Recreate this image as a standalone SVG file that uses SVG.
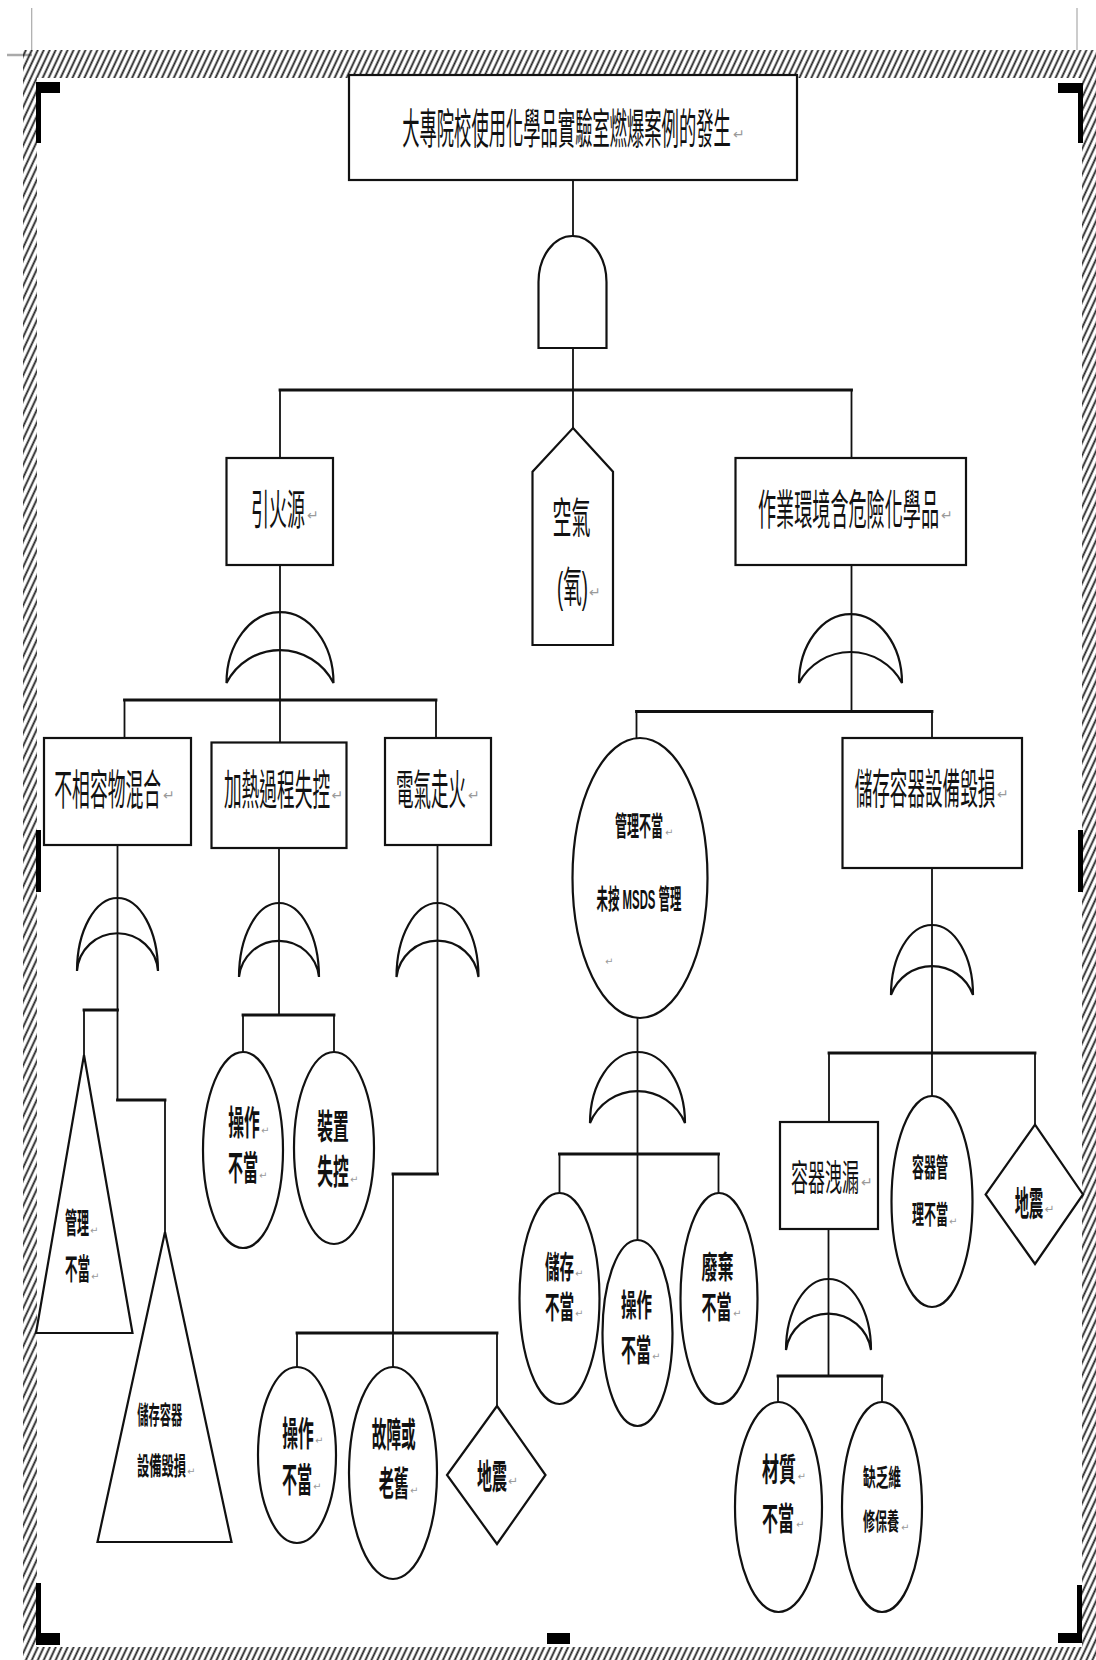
<svg xmlns="http://www.w3.org/2000/svg" width="1096" height="1660" viewBox="0 0 1096 1660">
<defs>
<style>
.ln{stroke:#111;stroke-width:1.8;fill:none;stroke-linecap:square}
.bus{stroke:#111;stroke-width:2.8;fill:none;stroke-linecap:square}
.box{fill:#fff;stroke:#111;stroke-width:2.2}
.gate{fill:none;stroke:#111;stroke-width:2.2}
.fillw{fill:#fff}
.t{font-family:"Liberation Sans","Noto Sans CJK TC",sans-serif;text-anchor:middle;dominant-baseline:central;fill:#111}
.s{font-weight:bold}
.rt{font-family:"DejaVu Sans",sans-serif;font-size:14px;fill:#9a9a9a;dominant-baseline:central}
.rs{font-family:"DejaVu Sans",sans-serif;font-size:10px;fill:#9a9a9a;dominant-baseline:central}
.mark{fill:#000}
.thin{stroke:#aaa;stroke-width:1.2}
</style>
<pattern id="hatch" patternUnits="userSpaceOnUse" width="5.4" height="8" patternTransform="rotate(25)">
<line x1="1.4" y1="-1" x2="1.4" y2="9" stroke="#222" stroke-width="1.8"/>
</pattern>
</defs>
<rect width="1096" height="1660" fill="#fff"/>

<g id="frame">
<line class="thin" x1="31.7" y1="8" x2="31.7" y2="50"/>
<line x1="7" y1="55" x2="32" y2="55" stroke="#aaa" stroke-width="2.5"/>
<line class="thin" x1="1077" y1="8" x2="1077" y2="50"/>
<rect x="23" y="50" width="1073" height="28" fill="url(#hatch)"/>
<rect x="23" y="78" width="14" height="1582" fill="url(#hatch)"/>
<rect x="1082" y="78" width="14" height="1582" fill="url(#hatch)"/>
<rect x="37" y="1647" width="1045" height="13" fill="url(#hatch)"/>
<rect class="mark" x="36" y="82" width="5" height="61"/>
<rect class="mark" x="36" y="82" width="24" height="11"/>
<rect class="mark" x="1078" y="83" width="5" height="60"/>
<rect class="mark" x="1058" y="83" width="25" height="10"/>
<rect class="mark" x="36" y="1583" width="5" height="62"/>
<rect class="mark" x="36" y="1633" width="24" height="12"/>
<rect class="mark" x="1077" y="1585" width="5" height="58"/>
<rect class="mark" x="1058" y="1633" width="24" height="10"/>
<rect class="mark" x="548" y="82" width="24" height="11"/>
<rect class="mark" x="547" y="1633" width="23" height="11"/>
<rect class="mark" x="36" y="830" width="5" height="62"/>
<rect class="mark" x="1078" y="830" width="5" height="62"/>
</g>

<g id="connectors">
<path class="ln" d="M573 180V236M573 348V428M280 390V458M851.5 390V458M280 565V742.5M124.5 700V738M436 700V738M851.5 565V711.5M636.5 711.5V738M932 711.5V738M117.5 845V1100M84 1010V1055M165 1100V1232M279 848V1015M243 1015V1052M334 1015V1052M437.5 845V1174M393 1174V1367M297 1333V1367M497 1333V1406M637.5 1018V1240M559.5 1154V1193M718.5 1154V1193M932 868V1096M829 1053V1122M1035 1053V1124.6M828.5 1229V1376M778 1376V1402M882 1376V1402"/>
<path class="bus" d="M280 390H851.5M124.5 700H436M636.5 711.5H932M84 1010H117.5M117.5 1100H165M243 1015H334M393 1174H437.5M297 1333H497M559.5 1154H718.5M829 1053H1035M778 1376H882"/>
</g>

<g id="gates">
<path id="and-top" class="gate fillw" d="M538.5 348V282A34 46 0 0 1 606.5 282V348Z"/>
<path id="or-ignition" class="gate" d="M226.5 683A53.5 71 0 0 1 333.5 683A59.9 59.9 0 0 0 226.5 683Z"/>
<path id="or-hazard" class="gate" d="M799 683A51.5 69 0 0 1 902 683A58.3 58.3 0 0 0 799 683Z"/>
<path id="or-mix" class="gate" d="M77 971A40.5 73 0 0 1 158 971A40.6 40.6 0 0 0 77 971Z"/>
<path id="or-heat" class="gate" d="M239 977A40 74 0 0 1 319 977A40.2 40.2 0 0 0 239 977Z"/>
<path id="or-elec" class="gate" d="M396.5 977A41 74 0 0 1 478.5 977A41.3 41.3 0 0 0 396.5 977Z"/>
<path id="or-storage" class="gate" d="M891 995A41 70 0 0 1 973 995A43.5 43.5 0 0 0 891 995Z"/>
<path id="or-mgmt" class="gate" d="M590 1123A47.5 71 0 0 1 685 1123A51.3 51.3 0 0 0 590 1123Z"/>
<path id="or-leak" class="gate" d="M786 1350A42.5 71 0 0 1 871 1350A43 43 0 0 0 786 1350Z"/>
</g>

<g id="n-top">
<rect class="box" x="349" y="75" width="448" height="105"/>
<text class="t" x="566.5" y="130" style="font-size:17.3px" transform="translate(0 130) scale(1 2.43) translate(0 -130)">大專院校使用化學品實驗室燃爆案例的發生</text>
<text class="rt" x="733" y="134">↵</text>
</g>
<g id="n-ignition">
<rect class="box" x="226.5" y="458" width="106.5" height="107"/>
<text class="t" x="278" y="511" style="font-size:18px" transform="translate(0 511) scale(1 2.33) translate(0 -511)">引火源</text>
<text class="rt" x="307" y="515">↵</text>
</g>
<g id="n-air">
<path class="box" d="M573 428L613 471.7V645H532.5V471.7Z"/>
<text class="t" x="571.6" y="518.5" style="font-size:19px" transform="translate(0 518.5) scale(1 2.2) translate(0 -518.5)">空氣</text>
<text class="t" x="572.5" y="588" style="font-size:18.6px" transform="translate(0 588) scale(1 2.26) translate(0 -588)">(氧)</text>
<text class="rt" x="589" y="592">↵</text>
</g>
<g id="n-hazard">
<rect class="box" x="735.5" y="458" width="230.5" height="107"/>
<text class="t" x="848.5" y="511" style="font-size:18.1px" transform="translate(0 511) scale(1 2.32) translate(0 -511)">作業環境含危險化學品</text>
<text class="rt" x="941" y="515">↵</text>
</g>
<g id="n-mix">
<rect class="box" x="44" y="738" width="147" height="107"/>
<text class="t" x="107.7" y="791" style="font-size:17.8px" transform="translate(0 791) scale(1 2.36) translate(0 -791)">不相容物混合</text>
<text class="rt" x="163" y="795">↵</text>
</g>
<g id="n-heat">
<rect class="box" x="211.5" y="742.5" width="135" height="105.5"/>
<text class="t" x="277" y="791" style="font-size:17.7px" transform="translate(0 791) scale(1 2.37) translate(0 -791)">加熱過程失控</text>
<text class="rt" x="331.5" y="795">↵</text>
</g>
<g id="n-elec">
<rect class="box" x="385" y="738" width="106" height="107"/>
<text class="t" x="431" y="791" style="font-size:17.5px" transform="translate(0 791) scale(1 2.4) translate(0 -791)">電氣走火</text>
<text class="rt" x="468" y="795">↵</text>
</g>
<g id="n-mgmt">
<ellipse class="box" cx="640" cy="878" rx="67.5" ry="140"/>
<text class="t s" x="639" y="826.5" style="font-size:12px" transform="translate(0 826.5) scale(1 2.25) translate(0 -826.5)">管理不當</text>
<text class="rs" x="665" y="832">↵</text>
<text class="t s" x="639" y="899" style="font-size:11.4px" transform="translate(0 899) scale(1 2.37) translate(0 -899)">未按 MSDS 管理</text>
<text class="rs" x="605" y="961">↵</text>
</g>
<g id="n-storage">
<rect class="box" x="842.5" y="738" width="179.5" height="130"/>
<text class="t" x="925" y="790" style="font-size:17.6px" transform="translate(0 790) scale(1 2.38) translate(0 -790)">儲存容器設備毀損</text>
<text class="rt" x="997" y="794">↵</text>
</g>
<g id="n-mix-mgmt">
<path class="box" d="M84 1055L132.5 1333H36Z"/>
<text class="t s" x="77" y="1224" style="font-size:12px" transform="translate(0 1224) scale(1 2.42) translate(0 -1224)">管理</text>
<text class="rs" x="90" y="1230">↵</text>
<text class="t s" x="77.5" y="1270" style="font-size:12.5px" transform="translate(0 1270) scale(1 2.32) translate(0 -1270)">不當</text>
<text class="rs" x="91" y="1276">↵</text>
</g>
<g id="n-mix-storage">
<path class="box" d="M165 1232L231.5 1542H97.5Z"/>
<text class="t s" x="159.7" y="1415" style="font-size:11.25px" transform="translate(0 1415) scale(1 2.22) translate(0 -1415)">儲存容器</text>
<text class="t s" x="161.5" y="1466" style="font-size:12.25px" transform="translate(0 1466) scale(1 2.04) translate(0 -1466)">設備毀損</text>
<text class="rs" x="187" y="1471">↵</text>
</g>
<g id="n-heat-op">
<ellipse class="box" cx="243" cy="1150" rx="40" ry="98"/>
<text class="t s" x="244" y="1123.5" style="font-size:15.75px" transform="translate(0 1123.5) scale(1 2.16) translate(0 -1123.5)">操作</text>
<text class="rs" x="261" y="1130">↵</text>
<text class="t s" x="243" y="1168.5" style="font-size:15px" transform="translate(0 1168.5) scale(1 2.27) translate(0 -1168.5)">不當</text>
<text class="rs" x="259" y="1175">↵</text>
</g>
<g id="n-heat-dev">
<ellipse class="box" cx="334" cy="1148" rx="40" ry="96"/>
<text class="t s" x="333" y="1127.5" style="font-size:15.75px" transform="translate(0 1127.5) scale(1 2.16) translate(0 -1127.5)">裝置</text>
<text class="t s" x="333" y="1172.5" style="font-size:15.75px" transform="translate(0 1172.5) scale(1 2.16) translate(0 -1172.5)">失控</text>
<text class="rs" x="350" y="1179">↵</text>
</g>
<g id="n-elec-op">
<ellipse class="box" cx="297" cy="1455" rx="39" ry="88"/>
<text class="t s" x="298" y="1434" style="font-size:15.75px" transform="translate(0 1434) scale(1 2.16) translate(0 -1434)">操作</text>
<text class="rs" x="315" y="1440">↵</text>
<text class="t s" x="297" y="1480" style="font-size:15px" transform="translate(0 1480) scale(1 2.27) translate(0 -1480)">不當</text>
<text class="rs" x="313" y="1486">↵</text>
</g>
<g id="n-elec-old">
<ellipse class="box" cx="393" cy="1473" rx="44" ry="106"/>
<text class="t s" x="393.8" y="1435" style="font-size:14.67px" transform="translate(0 1435) scale(1 2.32) translate(0 -1435)">故障或</text>
<text class="t s" x="393.8" y="1484" style="font-size:15px" transform="translate(0 1484) scale(1 2.27) translate(0 -1484)">老舊</text>
<text class="rs" x="410" y="1490">↵</text>
</g>
<g id="n-elec-quake">
<path class="box" d="M497 1406L545.5 1475L497 1544L447 1475Z"/>
<text class="t s" x="492" y="1477" style="font-size:15px" transform="translate(0 1477) scale(1 2.27) translate(0 -1477)">地震</text>
<text class="rt" x="508" y="1481" style="font-size:12px">↵</text>
</g>
<g id="n-mgmt-store">
<ellipse class="box" cx="559.5" cy="1298.5" rx="40" ry="105.5"/>
<text class="t s" x="559.5" y="1267" style="font-size:14.5px" transform="translate(0 1267) scale(1 2.14) translate(0 -1267)">儲存</text>
<text class="rs" x="575" y="1273">↵</text>
<text class="t s" x="559.5" y="1307" style="font-size:14.5px" transform="translate(0 1307) scale(1 2.14) translate(0 -1307)">不當</text>
<text class="rs" x="575" y="1313">↵</text>
</g>
<g id="n-mgmt-op">
<ellipse class="box" cx="637.5" cy="1333" rx="35" ry="93"/>
<text class="t s" x="636.5" y="1305" style="font-size:15.5px" transform="translate(0 1305) scale(1 2) translate(0 -1305)">操作</text>
<text class="t s" x="636" y="1350" style="font-size:15px" transform="translate(0 1350) scale(1 2.07) translate(0 -1350)">不當</text>
<text class="rs" x="652" y="1356">↵</text>
</g>
<g id="n-mgmt-waste">
<ellipse class="box" cx="719" cy="1298.5" rx="38.5" ry="105.5"/>
<text class="t s" x="717.5" y="1267" style="font-size:16px" transform="translate(0 1267) scale(1 1.94) translate(0 -1267)">廢棄</text>
<text class="t s" x="716.6" y="1307" style="font-size:15px" transform="translate(0 1307) scale(1 2.07) translate(0 -1307)">不當</text>
<text class="rs" x="733" y="1313">↵</text>
</g>
<g id="n-leak">
<rect class="box" x="780" y="1122" width="98" height="107"/>
<text class="t" x="825" y="1178" style="font-size:17px" transform="translate(0 1178) scale(1 2.12) translate(0 -1178)">容器洩漏</text>
<text class="rt" x="861" y="1182">↵</text>
</g>
<g id="n-container-mgmt">
<ellipse class="box" cx="932" cy="1201.5" rx="40.5" ry="105.5"/>
<text class="t s" x="930" y="1168.5" style="font-size:12px" transform="translate(0 1168.5) scale(1 2.17) translate(0 -1168.5)">容器管</text>
<text class="t s" x="930" y="1215" style="font-size:12px" transform="translate(0 1215) scale(1 2.17) translate(0 -1215)">理不當</text>
<text class="rs" x="949" y="1221">↵</text>
</g>
<g id="n-storage-quake">
<path class="box" d="M1035 1124.6L1083 1194.5L1035 1264L985.6 1194.5Z"/>
<text class="t s" x="1029" y="1204.5" style="font-size:14.25px" transform="translate(0 1204.5) scale(1 2.39) translate(0 -1204.5)">地震</text>
<text class="rt" x="1044.5" y="1208.5" style="font-size:12px">↵</text>
</g>
<g id="n-material">
<ellipse class="box" cx="778.5" cy="1507" rx="43.5" ry="105"/>
<text class="t s" x="779" y="1470" style="font-size:17px" transform="translate(0 1470) scale(1 1.88) translate(0 -1470)">材質</text>
<text class="rs" x="797.5" y="1476">↵</text>
<text class="t s" x="778" y="1518.5" style="font-size:16px" transform="translate(0 1518.5) scale(1 2) translate(0 -1518.5)">不當</text>
<text class="rs" x="796" y="1524">↵</text>
</g>
<g id="n-maint">
<ellipse class="box" cx="882" cy="1507" rx="40" ry="105"/>
<text class="t s" x="882" y="1478" style="font-size:12.67px" transform="translate(0 1478) scale(1 1.89) translate(0 -1478)">缺乏維</text>
<text class="t s" x="881" y="1521.5" style="font-size:12px" transform="translate(0 1521.5) scale(1 2) translate(0 -1521.5)">修保養</text>
<text class="rs" x="901" y="1527">↵</text>
</g>
</svg>
